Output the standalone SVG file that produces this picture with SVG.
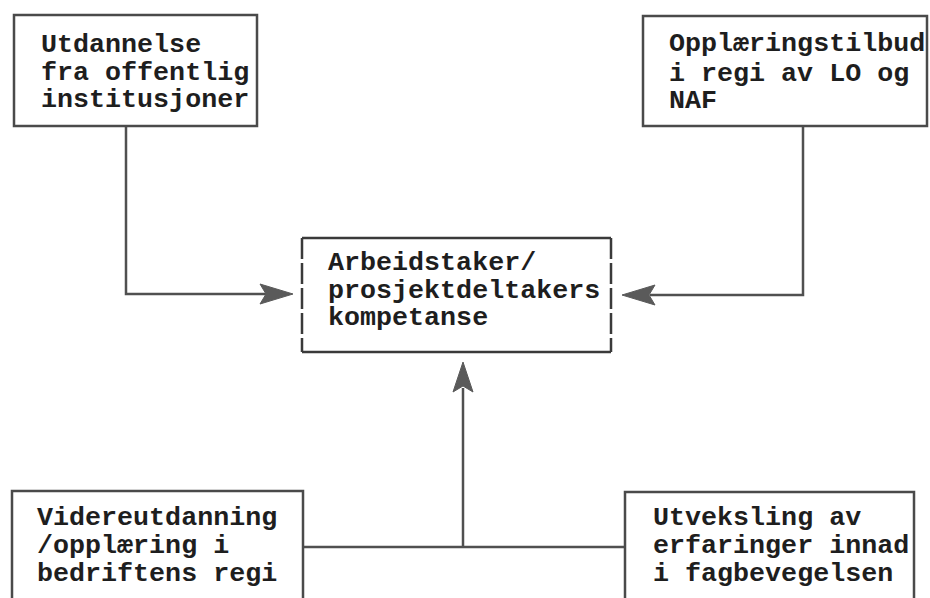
<svg xmlns="http://www.w3.org/2000/svg" width="930" height="598" viewBox="0 0 930 598">
  <style>
    .box { fill: #ffffff; stroke: #4a4a4a; stroke-width: 2.5; }
    .side { stroke: #3a3a3a; stroke-width: 2.5; stroke-dasharray: 21 4; fill: none; }
    .edge { stroke: #3a3a3a; stroke-width: 2.5; fill: none; }
    .wire { stroke: #505050; stroke-width: 2.5; fill: none; }
    .lbl { font-family: "Liberation Mono", "DejaVu Sans Mono", monospace; font-size: 26.7px; font-weight: bold; fill: #1e1e1e; }
    .head { fill: #5a5a5a; stroke: #5a5a5a; stroke-width: 1; stroke-linejoin: round; }
  </style>
  <rect width="930" height="598" fill="#ffffff"/>

  <!-- connectors -->
  <g id="connectors">
    <polyline class="wire" points="126,125 126,294 266,294"/>
    <polygon class="head" points="260,284 293,294 260,304 266,294"/>
    <polyline class="wire" points="803,126 803,295 650,295"/>
    <polygon class="head" points="655,285 622,295 655,305 649,295"/>
    <line class="wire" x1="303" y1="547" x2="625" y2="547"/>
    <line class="wire" x1="463" y1="547" x2="463" y2="388"/>
    <polygon class="head" points="463,362 473,392 463,386 453,392"/>
  </g>

  <g id="node-utdannelse">
    <rect class="box" x="14" y="15" width="243" height="111"/>
    <text class="lbl" x="41" y="52">Utdannelse</text>
    <text class="lbl" x="41" y="80">fra offentlig</text>
    <text class="lbl" x="41" y="107">institusjoner</text>
  </g>

  <g id="node-opplaering">
    <rect class="box" x="643" y="16" width="284" height="110"/>
    <text class="lbl" x="669" y="51">Opplæringstilbud</text>
    <text class="lbl" x="669" y="81">i regi av LO og</text>
    <text class="lbl" x="669" y="108">NAF</text>
  </g>

  <g id="node-kompetanse">
    <rect x="302" y="238" width="309" height="114" fill="#ffffff"/>
    <line class="edge" x1="302" y1="238" x2="611" y2="238"/>
    <line class="edge" x1="302" y1="352" x2="611" y2="352"/>
    <line class="side" x1="302" y1="238" x2="302" y2="352"/>
    <line class="side" x1="611" y1="238" x2="611" y2="352"/>
    <text class="lbl" x="328" y="270">Arbeidstaker/</text>
    <text class="lbl" x="328" y="298">prosjektdeltakers</text>
    <text class="lbl" x="328" y="325">kompetanse</text>
  </g>

  <g id="node-videreutdanning">
    <rect class="box" x="12" y="491" width="291" height="112"/>
    <text class="lbl" x="37" y="525">Videreutdanning</text>
    <text class="lbl" x="37" y="553">/opplæring i</text>
    <text class="lbl" x="37" y="581">bedriftens regi</text>
  </g>

  <g id="node-utveksling">
    <rect class="box" x="625" y="492" width="289" height="111"/>
    <text class="lbl" x="653" y="525">Utveksling av</text>
    <text class="lbl" x="653" y="553">erfaringer innad</text>
    <text class="lbl" x="653" y="581">i fagbevegelsen</text>
  </g>
</svg>
